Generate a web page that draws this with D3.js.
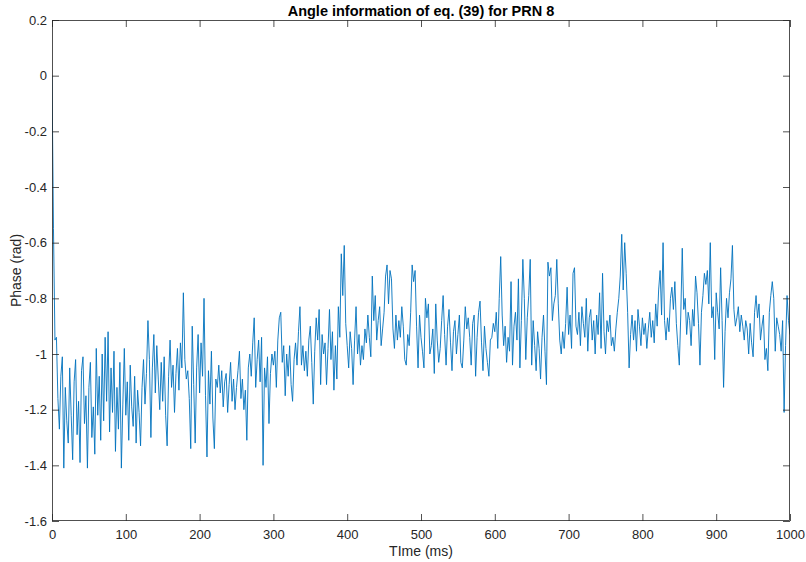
<!DOCTYPE html>
<html>
<head>
<meta charset="utf-8">
<script src="https://cdn.jsdelivr.net/npm/d3@7"></script>
<style>
html,body{margin:0;padding:0;background:#fff;}
svg{display:block;font-family:"Liberation Sans",Arial,Helvetica,sans-serif;}
</style>
</head>
<body>
<svg id="chart" width="806" height="562"></svg>
<script>
const titleText = "Angle information of eq. (39) for PRN 8";
const xLabel = "TIme (ms)";
const yLabel = "Phase (rad)";
const xTicks = [0,100,200,300,400,500,600,700,800,900,1000];
const yTicks = [0.2,0,-0.2,-0.4,-0.6,-0.8,-1,-1.2,-1.4,-1.6];
const timeStep = 2; // ms between samples
const phase = [
0.00,-0.55,-0.95,-0.94,-1.16,-1.27,-1.08,-1.01,-1.41,-1.12,-1.24,-1.32,-1.05,-1.22,-1.38,-1.10,-1.02,-1.29,-1.17,-1.39,-1.06,-1.01,-1.25,-1.15,-1.41,
-1.12,-1.03,-1.30,-1.19,-1.36,-0.98,-1.22,-1.08,-1.31,-1.00,-1.24,-0.94,-1.17,-0.92,-1.28,-1.05,-1.21,-0.99,-1.35,-1.12,-1.27,-1.03,-1.41,-1.18,-0.98,
-1.22,-1.10,-1.31,-1.04,-1.19,-1.26,-1.08,-1.32,-1.13,-1.21,-1.33,-1.12,-1.02,-1.18,-1.07,-0.88,-1.02,-1.30,-1.05,-0.93,-1.14,-0.97,-1.09,-1.20,-1.03,
-1.17,-1.01,-1.22,-1.33,-1.08,-0.95,-1.12,-1.04,-1.21,-1.07,-0.98,-1.13,-0.96,-1.05,-0.78,-1.02,-1.09,-1.06,-1.16,-1.34,-0.90,-1.11,-1.32,-1.05,-0.93,
-1.14,-0.96,-1.08,-0.80,-1.15,-1.37,-1.06,-1.18,-0.99,-1.23,-1.34,-1.09,-1.12,-1.04,-1.14,-1.06,-1.19,-1.10,-1.07,-1.21,-1.11,-1.03,-1.17,-1.09,-1.20,
-1.12,-1.06,-0.99,-1.16,-1.09,-1.20,-1.13,-1.31,-1.05,-1.00,-1.08,-0.96,-0.87,-1.12,-1.02,-0.95,-1.10,-0.94,-1.40,-1.05,-1.12,-1.01,-1.25,-1.07,-1.00,
-1.04,-0.99,-1.12,-0.95,-0.87,-0.85,-1.03,-0.97,-1.15,-1.00,-1.08,-0.97,-1.11,-1.17,-1.02,-0.96,-1.04,-0.92,-0.83,-1.04,-0.97,-1.06,-0.99,-1.08,-0.95,
-0.90,-1.03,-1.18,-0.99,-0.87,-0.95,-0.84,-1.11,-0.93,-1.00,-0.96,-1.11,-0.98,-0.84,-1.02,-0.92,-1.13,-0.97,-1.09,-0.83,-0.94,-0.64,-0.79,-0.61,-0.89,
-0.97,-1.05,-0.92,-0.98,-1.11,-0.95,-0.83,-1.00,-0.93,-1.04,-0.97,-1.02,-0.91,-0.96,-0.86,-0.94,-1.01,-0.72,-0.88,-0.79,-0.95,-0.88,-0.83,-0.97,-0.91,
-0.85,-0.72,-0.68,-0.82,-0.70,-0.73,-0.91,-0.98,-0.86,-0.95,-0.88,-0.94,-0.83,-0.90,-1.02,-1.04,-0.93,-0.97,-0.85,-0.68,-0.74,-0.70,-0.90,-1.05,-0.86,
-0.94,-0.99,-1.05,-0.80,-0.87,-0.82,-1.00,-0.97,-0.91,-1.07,-0.82,-0.95,-1.03,-0.98,-0.88,-0.79,-0.93,-1.04,-0.90,-0.84,-0.96,-1.06,-0.92,-0.88,-1.00,
-0.93,-0.86,-1.03,-1.05,-0.95,-0.83,-0.91,-0.87,-0.94,-1.04,-0.89,-0.86,-1.08,-0.94,-0.85,-0.81,-0.96,-1.06,-0.90,-0.98,-1.03,-1.08,-0.95,-0.94,-0.89,
-0.92,-0.85,-0.98,-0.80,-0.65,-0.86,-0.97,-0.90,-1.03,-0.94,-0.99,-0.74,-1.04,-0.90,-0.85,-0.95,-0.73,-1.05,-0.88,-0.66,-0.80,-1.02,-0.87,-0.79,-0.66,
-1.04,-0.88,-0.97,-1.06,-0.92,-0.98,-1.09,-0.94,-0.86,-0.99,-1.11,-0.67,-0.72,-0.69,-0.88,-0.82,-0.79,-0.66,-0.82,-0.95,-1.00,-0.92,-0.98,-0.89,-0.76,
-0.93,-0.86,-0.98,-0.71,-0.69,-0.90,-0.93,-0.85,-0.97,-0.83,-0.89,-0.94,-0.80,-0.99,-0.87,-0.84,-0.95,-0.88,-1.00,-0.86,-0.93,-0.78,-0.98,-0.71,-0.92,
-1.00,-0.88,-0.92,-0.86,-0.97,-0.94,-0.99,-0.91,-0.85,-0.80,-0.72,-0.57,-0.77,-0.60,-0.71,-0.85,-1.05,-0.93,-0.86,-0.95,-0.88,-0.99,-0.84,-0.90,-0.97,
-0.87,-0.93,-0.89,-0.98,-0.91,-0.85,-0.94,-0.88,-0.96,-0.82,-0.90,-0.77,-0.70,-0.86,-0.60,-0.88,-0.95,-0.87,-0.92,-0.80,-0.76,-0.84,-0.74,-0.89,-0.97,
-1.04,-0.86,-0.62,-0.84,-0.80,-0.93,-0.85,-0.88,-0.97,-0.84,-0.90,-0.72,-0.78,-0.89,-1.04,-0.85,-0.79,-0.71,-0.75,-0.70,-0.82,-0.60,-0.87,-0.83,-1.02,
-0.78,-0.85,-0.91,-0.69,-0.88,-1.12,-0.92,-0.80,-0.87,-0.78,-0.73,-0.61,-0.84,-0.90,-0.87,-0.83,-0.92,-0.86,-0.90,-0.95,-0.88,-0.91,-1.00,-0.89,-0.96,
-1.01,-0.85,-0.79,-0.87,-0.82,-0.95,-0.90,-0.86,-1.02,-0.98,-1.06,-0.85,-0.79,-0.74,-0.80,-0.99,-0.87,-0.90,-0.93,-0.99,-0.88,-1.21,-0.97,-0.79,-0.88,-0.93
];

const W = 806, H = 562;
const m = {left: 52, right: 790, top: 20, bottom: 521};
const axisColor = "#262626";
const lineColor = "#0072BD";

const svg = d3.select("#chart");

const x = d3.scaleLinear().domain([0, 1000]).range([m.left, m.right]);
const y = d3.scaleLinear().domain([-1.6, 0.2]).range([m.bottom, m.top]);

const fmt = d => String(Math.round(d * 10) / 10);

svg.append("clipPath").attr("id", "plotclip").append("rect")
  .attr("x", m.left).attr("y", m.top)
  .attr("width", m.right - m.left).attr("height", m.bottom - m.top);

const line = d3.line()
  .x((d, i) => x(i * timeStep))
  .y(d => y(d));

svg.append("path")
  .datum(phase)
  .attr("clip-path", "url(#plotclip)")
  .attr("fill", "none")
  .attr("stroke", lineColor)
  .attr("stroke-width", 0.9)
  .attr("stroke-linejoin", "round")
  .attr("d", line);

const tick = 7;
function styleAxis(g) {
  g.select(".domain").remove();
  g.selectAll(".tick line").attr("stroke", axisColor).attr("stroke-width", 0.8);
  g.selectAll(".tick text").attr("fill", axisColor).attr("font-size", 13)
    .attr("font-family", "'Liberation Sans', Arial, Helvetica, sans-serif");
}

svg.append("g").attr("transform", `translate(0,${m.bottom})`)
  .call(d3.axisBottom(x).tickValues(xTicks).tickFormat(fmt).tickSizeInner(-tick).tickSizeOuter(0).tickPadding(9))
  .call(styleAxis);

svg.append("g").attr("transform", `translate(0,${m.top})`)
  .call(d3.axisTop(x).tickValues(xTicks).tickFormat("").tickSizeInner(-tick).tickSizeOuter(0))
  .call(styleAxis);

svg.append("g").attr("transform", `translate(${m.left},0)`)
  .call(d3.axisLeft(y).tickValues(yTicks).tickFormat(fmt).tickSizeInner(-tick).tickSizeOuter(0).tickPadding(5))
  .call(styleAxis);

svg.append("g").attr("transform", `translate(${m.right},0)`)
  .call(d3.axisRight(y).tickValues(yTicks).tickFormat("").tickSizeInner(-tick).tickSizeOuter(0))
  .call(styleAxis);

svg.append("rect")
  .attr("x", m.left + 0.5).attr("y", m.top + 0.5)
  .attr("width", m.right - m.left - 1).attr("height", m.bottom - m.top - 1)
  .attr("fill", "none").attr("stroke", axisColor).attr("stroke-width", 0.8);

svg.append("text")
  .attr("x", (m.left + m.right) / 2).attr("y", 16)
  .attr("text-anchor", "middle")
  .attr("font-size", 14.5).attr("font-weight", "bold").attr("fill", "#000")
  .text(titleText);

svg.append("text")
  .attr("x", (m.left + m.right) / 2).attr("y", 556)
  .attr("text-anchor", "middle")
  .attr("font-size", 14).attr("fill", axisColor)
  .text(xLabel);

svg.append("text")
  .attr("transform", `translate(21,${(m.top + m.bottom) / 2}) rotate(-90)`)
  .attr("text-anchor", "middle")
  .attr("font-size", 14).attr("fill", axisColor)
  .text(yLabel);
</script>
</body>
</html>
